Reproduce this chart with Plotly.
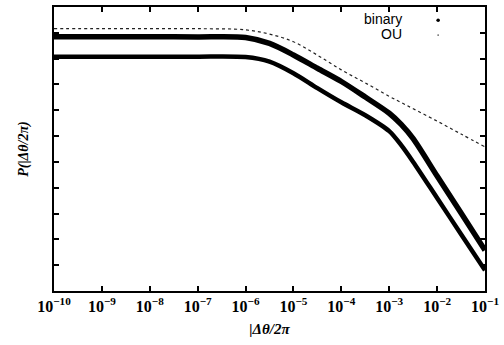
import plotly.graph_objects as go

# x positions: decade exponents of |dtheta/2pi|
x_exp = [-10, -9, -8, -7, -6, -5.5, -5, -4.5, -4, -3.5, -3, -2.75, -2.5, -2, -1.5, -1]

# log10 of P
binary_upper_log = [-1.154, -1.154, -1.154, -1.16, -1.181, -1.412, -1.858, -2.373, -2.885,
                    -3.488, -4.115, -4.55, -5.1, -6.55, -7.98, -9.42]
binary_lower_log = [-1.923, -1.923, -1.923, -1.923, -1.94, -2.115, -2.565, -3.142, -3.692,
                    -4.192, -4.808, -5.35, -6.0, -7.4, -8.8, -10.2]
ou_log = [-0.835, -0.835, -0.835, -0.84, -0.885, -1.05, -1.346, -1.865, -2.435,
          -2.94, -3.46, -3.70, -3.94, -4.42, -4.92, -5.42]

tick_exps = [-10, -9, -8, -7, -6, -5, -4, -3, -2, -1]
tick_text = ["10<sup>−%d</sup>" % (-e) for e in tick_exps]

xs = [10 ** e for e in x_exp]
tickvals = [10 ** e for e in tick_exps]

fig = go.Figure()
fig.add_trace(go.Scatter(x=xs, y=[10 ** v for v in ou_log], mode="lines",
                         line=dict(color="#222", width=1.2, dash="dot", shape="spline"),
                         name="OU", showlegend=False))
fig.add_trace(go.Scatter(x=xs, y=[10 ** v for v in binary_upper_log], mode="lines",
                         line=dict(color="black", width=5.5, shape="spline", smoothing=0.8),
                         name="binary", showlegend=False))
fig.add_trace(go.Scatter(x=xs, y=[10 ** v for v in binary_lower_log], mode="lines",
                         line=dict(color="black", width=4.5, shape="spline", smoothing=0.8),
                         name="binary", showlegend=False))

serif = "Liberation Serif"
fig.update_layout(
    width=504, height=345,
    margin=dict(l=54, r=15, t=5, b=54),
    paper_bgcolor="white", plot_bgcolor="white",
    xaxis=dict(type="log", range=[-10, -1], tickvals=tickvals, ticktext=tick_text,
               ticks="inside", ticklen=5, tickwidth=1.5, tickcolor="black",
               showline=True, linecolor="black", linewidth=2, mirror="ticks",
               showgrid=False, zeroline=False,
               tickfont=dict(family=serif, size=16, color="black", weight="bold"),
               title=dict(text="<i>|Δθ/2π</i>", standoff=9,
                          font=dict(family=serif, size=15, color="black", weight="bold"))),
    yaxis=dict(type="log", range=[-11, 0], dtick=1, showticklabels=False,
               ticks="inside", ticklen=5, tickwidth=1.5, tickcolor="black",
               showline=True, linecolor="black", linewidth=2, mirror="ticks",
               showgrid=False, zeroline=False,
               title=dict(text="<i>P(|Δθ/2π)</i>", standoff=20,
                          font=dict(family=serif, size=14, color="black", weight="bold"))),
    showlegend=False,
)

# legend (text left of symbol, as in the reference)
fig.add_annotation(xref="paper", yref="paper", x=0.8115, y=(291 - 17) / 286,
                   xanchor="right", yanchor="middle",
                   text="binary", showarrow=False,
                   font=dict(family="Liberation Sans", size=14, color="black"))
fig.add_annotation(xref="paper", yref="paper", x=0.8115, y=(291 - 32) / 286,
                   xanchor="right", yanchor="middle",
                   text="OU", showarrow=False,
                   font=dict(family="Liberation Sans", size=14, color="black"))
cx = (441.7 - 54) / 435
fig.add_shape(type="circle", xref="paper", yref="paper",
              x0=cx - 1.8 / 435, x1=cx + 1.8 / 435,
              y0=(291 - 18.3 - 1.8) / 286, y1=(291 - 18.3 + 1.8) / 286,
              fillcolor="black", line=dict(width=0))
fig.add_shape(type="circle", xref="paper", yref="paper",
              x0=cx - 0.9 / 435, x1=cx + 0.9 / 435,
              y0=(291 - 33.3 - 0.9) / 286, y1=(291 - 33.3 + 0.9) / 286,
              fillcolor="#666", line=dict(width=0))

fig.write_html("out.html")
